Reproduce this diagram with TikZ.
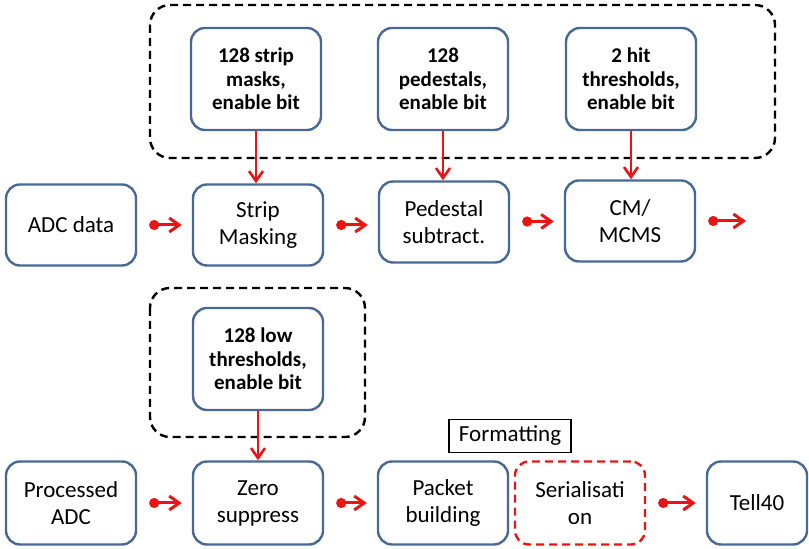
\documentclass[tikz,border=0pt]{standalone}
\usepackage{fontspec}
\setmainfont{Carlito}
\usetikzlibrary{arrows.meta}
\definecolor{boxblue}{RGB}{72,104,150}
\definecolor{flowred}{RGB}{235,20,20}
\begin{document}
\begin{tikzpicture}[x=0.5pt,y=-0.5pt,
  every node/.style={font=\fontsize{11.5}{13.5}\selectfont,align=center},
  stage/.style={draw=boxblue,line width=1.2pt,rounded corners=7pt,minimum width=65pt,minimum height=40.5pt,inner sep=1pt},
  cfg/.style={stage,minimum height=51pt,font=\fontsize{10.5}{11.8}\selectfont\bfseries},
  group/.style={draw,line width=1.2pt,dash pattern=on 4pt off 2.5pt,rounded corners=10pt},
  flow/.style={draw=flowred,line width=1.5pt,{Circle[length=5pt]}-{Straight Barb[length=5pt,width=7pt]},shorten <=6pt,shorten >=5pt},
  feed/.style={draw=flowred,line width=1.3pt,-{Straight Barb[length=5pt,width=7pt]}}]
\useasboundingbox (0,0) rectangle (809,549);
\draw[group] (150,5) rectangle (775,158);
\draw[group] (150,288) rectangle (365,437);
\node[stage] (adc) at (71,225) {ADC data};
\node[stage] (strip) at (258,225) {Strip\\Masking};
\node[stage] (ped) at (444,222) {Pedestal\\subtract.};
\node[stage] (cm) at (630,221) {CM/\\MCMS};
\coordinate (cmout) at (756,221);
\node[cfg] (maskcfg) at (256,79) {128 strip\\masks,\\enable bit};
\node[cfg] (pedcfg) at (443,79) {128\\pedestals,\\enable bit};
\node[cfg] (hitcfg) at (631,79) {2 hit\\thresholds,\\enable bit};
\node[cfg] (lowcfg) at (258,359) {128 low\\thresholds,\\enable bit};
\node[stage,minimum height=41.5pt] (proc) at (71,503) {Processed\\ADC};
\node[stage,minimum height=41.5pt] (zero) at (258,503) {Zero\\suppress};
\node[stage,minimum height=41.5pt] (packet) at (443,503) {Packet\\building};
\node[stage,minimum height=41.5pt,draw=flowred,dash pattern=on 4pt off 2.5pt] (serial) at (580,503) {Serialisati\\on};
\node[stage,minimum height=41.5pt,minimum width=50pt] (tell) at (757,503) {Tell40};
\node[draw,line width=0.7pt,minimum width=61pt,minimum height=16.5pt,inner sep=1pt] (fmt) at (510,436) {Formatting};
\draw[flow] (adc) -- (strip);
\draw[flow] (strip) -- (strip -| ped.west);
\draw[flow] (ped) -- (cm);
\draw[flow] (cm) -- (cmout);
\draw[flow] (proc) -- (zero);
\draw[flow] (zero) -- (packet);
\draw[flow] (serial) -- (tell);
\draw[feed] (maskcfg) -- (maskcfg |- strip.north);
\draw[feed] (pedcfg) -- (pedcfg |- ped.north);
\draw[feed] (hitcfg) -- (hitcfg |- cm.north);
\draw[feed] (lowcfg) -- (lowcfg |- zero.north);
\end{tikzpicture}
\end{document}
